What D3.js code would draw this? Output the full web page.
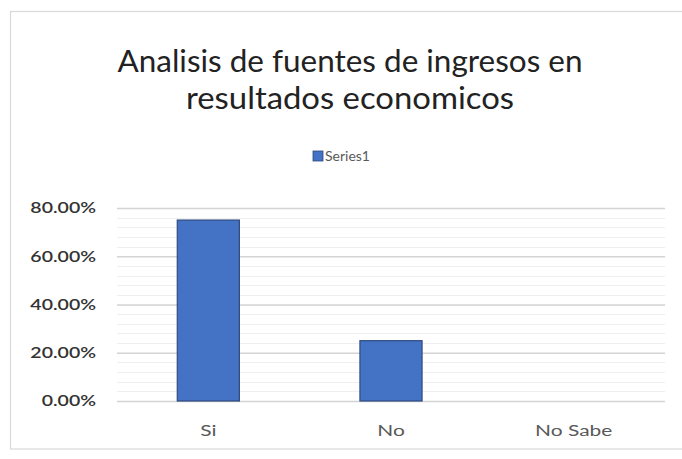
<!DOCTYPE html>
<html><head><meta charset="utf-8">
<script src="https://cdn.jsdelivr.net/npm/d3@7"></script>
<style>html,body{margin:0;padding:0;background:#fff;}svg{display:block;}</style>
</head><body>
<script>
const categories = ["Si", "No", "No Sabe"];
const values = [0.75, 0.25, 0];
const yTicks = [0, 0.2, 0.4, 0.6, 0.8];
const minorTicks = d3.range(0, 0.8001, 0.04);
const seriesName = "Series1";
const titleLines = ["Analisis de fuentes de ingresos en", "resultados economicos"];

const W = 682, H = 459;
const svg = d3.select("body").append("svg").attr("width", W).attr("height", H);
const font = "Lato, 'Open Sans', sans-serif";

function stretch(sel, k) {
  sel.each(function() {
    const w = this.getComputedTextLength();
    d3.select(this).attr("textLength", w * k).attr("lengthAdjust", "spacingAndGlyphs");
  });
}

svg.append("rect").attr("x", 0).attr("y", 0).attr("width", W).attr("height", H).attr("fill", "#fff");
svg.append("rect").attr("x", 10.5).attr("y", 11.5).attr("width", 680).attr("height", 437.5)
  .attr("fill", "#fff").attr("stroke", "#d9d9d9").attr("stroke-width", 1.2);

const m = {left: 117, right: 665, top: 208, bottom: 401};
const x = d3.scaleBand().domain(categories).range([m.left, m.right]).paddingInner(0.66).paddingOuter(0.33);
const y = d3.scaleLinear().domain([0, 0.8]).range([m.bottom, m.top]);

// minor gridlines
svg.append("g").selectAll("line").data(minorTicks).join("line")
  .attr("x1", m.left).attr("x2", m.right)
  .attr("y1", d => Math.round(y(d)) + 0.5).attr("y2", d => Math.round(y(d)) + 0.5)
  .attr("stroke", "#efefef").attr("stroke-width", 1);

// major gridlines via axis
const gAxis = svg.append("g").attr("transform", `translate(${m.left},0)`)
  .call(d3.axisLeft(y).tickValues(yTicks).tickSize(-(m.right - m.left)).tickFormat(d3.format(".2%")));
gAxis.select(".domain").remove();
gAxis.selectAll(".tick line").attr("stroke", "#d4d4d4").attr("stroke-width", 1.3);
gAxis.selectAll(".tick text").attr("x", -21).attr("fill", "#333").attr("font-family", font)
  .attr("font-size", 15).attr("font-weight", 600);
stretch(gAxis.selectAll(".tick text"), 1.3);

// bars
svg.append("g").selectAll("rect").data(values).join("rect")
  .attr("x", (d, i) => x(categories[i]))
  .attr("y", d => y(d))
  .attr("width", x.bandwidth())
  .attr("height", d => y(0) - y(d))
  .attr("fill", "#4472C4").attr("stroke", "#2F4A7F").attr("stroke-width", 1.2);

// x axis labels
const gx = svg.append("g").attr("transform", `translate(0,${m.bottom})`)
  .call(d3.axisBottom(x).tickSize(0).tickPadding(24));
gx.select(".domain").remove();
gx.selectAll(".tick text").attr("fill", "#595959").attr("font-family", font).attr("font-size", 15.5);
stretch(gx.selectAll(".tick text"), 1.35);

// title
const tLens = [465, 328];
svg.append("g").selectAll("text").data(titleLines).join("text")
  .attr("x", 350).attr("y", (d, i) => 72 + i * 37)
  .attr("text-anchor", "middle").attr("font-family", font).attr("font-size", 31)
  .attr("textLength", (d, i) => tLens[i]).attr("lengthAdjust", "spacingAndGlyphs")
  .attr("fill", "#222").text(d => d);

// legend
svg.append("rect").attr("x", 313).attr("y", 151).attr("width", 10).attr("height", 10)
  .attr("fill", "#4472C4").attr("stroke", "#2F4A7F").attr("stroke-width", 0.8);
svg.append("text").attr("x", 325).attr("y", 161).attr("font-family", font).attr("font-size", 14)
  .attr("fill", "#595959").text(seriesName);
</script>
</body></html>
